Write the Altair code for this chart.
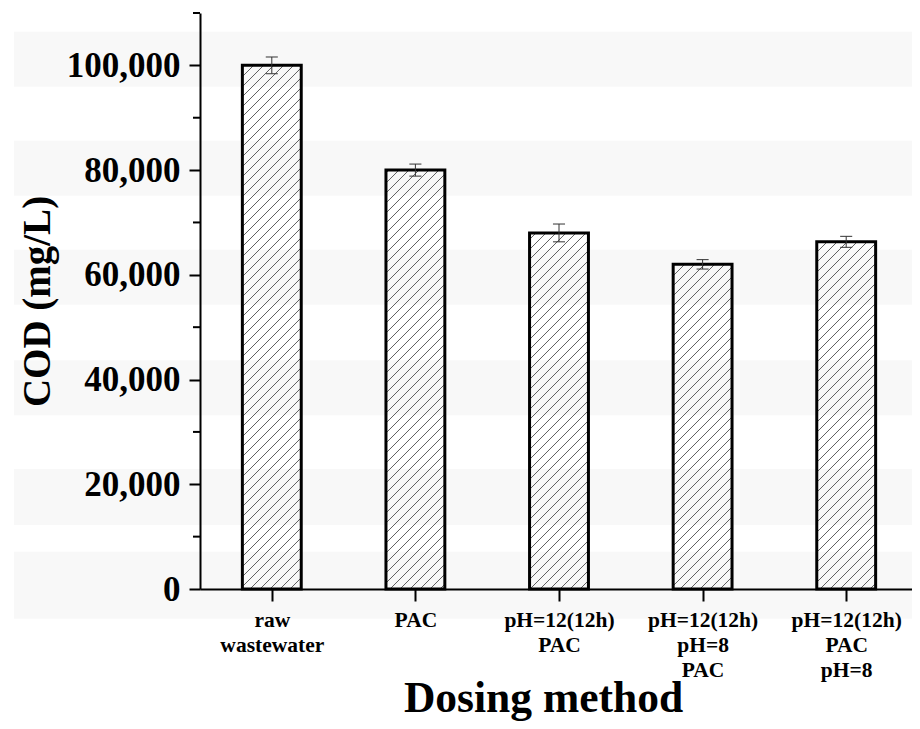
import json
import numpy as np
import pandas as pd
import altair as alt

# ---------------- data ----------------
CATEGORIES = [["raw", "wastewater"], ["PAC"], ["pH=12(12h)", "PAC"],
              ["pH=12(12h)", "pH=8", "PAC"], ["pH=12(12h)", "PAC", "pH=8"]]
COD = [100000, 80000, 68000, 62000, 66300]
ERR = [1600, 1150, 1700, 900, 1050]
Y_TICKS = [0, 20000, 40000, 60000, 80000, 100000]
Y_MINOR = [10000, 30000, 50000, 70000, 90000, 110000]
# faint background stripes (in y units)
BAND_TOP = [106400, 85600, 64800, 43700, 22900, 7100]
BAND_BOTTOM = [95900, 75100, 54300, 33200, 12200, -5700]

# ---------------- geometry helpers ----------------
W, H = 712, 576
Y_MAX = 110000
STEP_PX = 143.6       # pixels per category step
X_MIN = -0.5
X_MAX = X_MIN + W / STEP_PX
HALF = 0.205          # half bar width in x units
CAP = 0.042           # half cap width in x units
px_x = W / (X_MAX - X_MIN)
px_y = H / Y_MAX
FONT = "Liberation Serif"

idx = list(range(len(COD)))
bars = pd.DataFrame({
    "i": idx,
    "x0": [i - HALF for i in idx],
    "x1": [i + HALF for i in idx],
    "v": COD,
    "lo": [v - e for v, e in zip(COD, ERR)],
    "hi": [v + e for v, e in zip(COD, ERR)],
    "c0": [i - CAP for i in idx],
    "c1": [i + CAP for i in idx],
})

# diagonal hatch segments clipped to each bar (45 deg in screen space)
SP = 10.0
rows = []
for i, v in zip(idx, COD):
    Xa = (i - HALF - X_MIN) * px_x
    Xb = (i + HALF - X_MIN) * px_x
    Hb = v * px_y
    k = np.floor(-Xb / SP) * SP
    while k <= Hb - Xa:
        lo = max(Xa, -k)
        hi = min(Xb, Hb - k)
        if hi - lo > 0.5:
            rows.append({
                "hx0": lo / px_x + X_MIN, "hy0": (lo + k) / px_y,
                "hx1": hi / px_x + X_MIN, "hy1": (hi + k) / px_y,
            })
        k += SP
hatch = pd.DataFrame(rows)

bands = pd.DataFrame({"top": BAND_TOP, "bottom": BAND_BOTTOM})
minor = pd.DataFrame({"m": Y_MINOR})

xs = alt.Scale(domain=[X_MIN, X_MAX], nice=False, zero=False)
ys = alt.Scale(domain=[0, Y_MAX], nice=False, zero=False)

label_expr = json.dumps(CATEGORIES) + "[datum.value]"

x_axis = alt.Axis(
    values=idx, labelExpr=label_expr, grid=False, labelAngle=0, zindex=1,
    labelFont=FONT, labelFontWeight="bold", labelFontSize=21.5, labelColor="black",
    labelLineHeight=25, labelPadding=8, labelOverlap=False, labelFlush=False,
    labelBaseline="top",
    tickSize=12, tickWidth=2, tickColor="black",
    domainWidth=2, domainColor="black",
    title="Dosing method", titleFont=FONT, titleFontWeight="bold",
    titleFontSize=43.5, titleColor="black", titleX=343, titleY=122,
    titleAlign="center", titleBaseline="alphabetic",
)
y_axis = alt.Axis(
    values=Y_TICKS, format=",.0f", grid=False, zindex=1,
    labelFont=FONT, labelFontWeight="bold", labelFontSize=35, labelColor="black",
    labelPadding=9, labelOverlap=False, labelFlush=False,
    tickSize=11, tickWidth=2, tickColor="black",
    domainWidth=2, domainColor="black",
    title="COD (mg/L)", titleFont=FONT, titleFontWeight="bold",
    titleFontSize=39, titleColor="black", titleX=-151, titleY=288,
    titleAngle=270, titleAlign="center", titleBaseline="alphabetic",
)


def X(field):
    return alt.X(field, scale=xs, axis=x_axis)


def Y(field):
    return alt.Y(field, scale=ys, axis=y_axis)


band_layer = alt.Chart(bands).mark_rect(color="#f8f8f8").encode(
    x=alt.value(-186), x2=alt.value(720),
    y=Y("top:Q"), y2="bottom:Q",
)

hatch_layer = alt.Chart(hatch).mark_rule(color="#444444", strokeWidth=0.85).encode(
    x=X("hx0:Q"), x2="hx1:Q",
    y=Y("hy0:Q"), y2="hy1:Q",
)

bar_layer = alt.Chart(bars).mark_rect(
    fillOpacity=0, stroke="black", strokeWidth=3
).encode(
    x=X("x0:Q"), x2="x1:Q",
    y=Y("v:Q"), y2=alt.datum(0),
)

err_layer = alt.Chart(bars).mark_rule(color="#333333", strokeWidth=1).encode(
    x=X("i:Q"),
    y=Y("lo:Q"), y2="hi:Q",
)
cap_hi = alt.Chart(bars).mark_rule(color="#333333", strokeWidth=1).encode(
    x=X("c0:Q"), x2="c1:Q",
    y=Y("hi:Q"),
)
cap_lo = alt.Chart(bars).mark_rule(color="#333333", strokeWidth=1).encode(
    x=X("c0:Q"), x2="c1:Q",
    y=Y("lo:Q"),
)

minor_layer = alt.Chart(minor).mark_rule(color="black", strokeWidth=2).encode(
    x=alt.value(-7), x2=alt.value(0),
    y=Y("m:Q"),
)

chart = alt.layer(
    band_layer, hatch_layer, bar_layer, err_layer, cap_hi, cap_lo, minor_layer
).properties(
    width=W, height=H,
    padding={"left": 192, "top": 5, "right": 0, "bottom": 132},
    autosize=alt.AutoSizeParams(type="none"),
    background="white",
).configure_view(stroke=None)

chart.save("out.html", embed_options={"renderer": "svg", "actions": False})
